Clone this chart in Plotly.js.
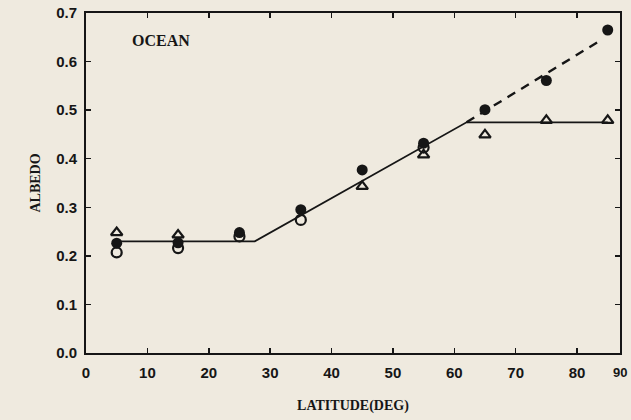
<!DOCTYPE html>
<html>
<head>
<meta charset="utf-8">
<script src="https://cdn.plot.ly/plotly-3.0.1.min.js"></script>
<style>
html,body{margin:0;padding:0;background:#efeadf;}
#chart{width:631px;height:420px;}
</style>
</head>
<body>
<div id="chart"></div>
<script>
// Data
const latitude = [5, 15, 25, 35, 45, 55, 65, 75, 85];
const albedoFilled = [0.226, 0.227, 0.248, 0.295, 0.377, 0.432, 0.501, 0.561, 0.665];
const albedoOpen = [0.207, 0.216, 0.240, 0.274, null, 0.423, null, null, null];
const albedoTriangle = [0.248, 0.243, null, null, 0.343, 0.408, 0.449, 0.479, 0.479];
const fitLat = [5, 27.5, 62, 85];
const fitAlbedo = [0.23, 0.23, 0.475, 0.475];
const dashLat = [62, 84];
const dashAlbedo = [0.475, 0.645];
const xTicks = [0, 10, 20, 30, 40, 50, 60, 70, 80];
const yTicks = [0, 0.1, 0.2, 0.3, 0.4, 0.5, 0.6, 0.7];

const ink = '#161616';
const traces = [
  {x: fitLat, y: fitAlbedo, mode: 'lines', line: {color: ink, width: 1.8}, hoverinfo: 'skip'},
  {x: dashLat, y: dashAlbedo, mode: 'lines', line: {color: ink, width: 2.4, dash: '9px,7px'}, hoverinfo: 'skip'},
  {x: latitude, y: albedoTriangle, mode: 'markers',
   marker: {symbol: 'triangle-up-open', size: 10, color: ink, line: {width: 2.2, color: ink}}},
  {x: latitude, y: albedoOpen, mode: 'markers',
   marker: {symbol: 'circle-open', size: 10, color: ink, line: {width: 2.2, color: ink}}},
  {x: latitude, y: albedoFilled, mode: 'markers',
   marker: {symbol: 'circle', size: 11, color: ink}}
];

const tickFont = {family: 'Liberation Sans, Arial, sans-serif', size: 15, color: ink, weight: 700};
const titleFont = {family: 'Liberation Serif, Times New Roman, serif', size: 14, color: ink, weight: 700};

const layout = {
  width: 631, height: 420,
  margin: {l: 86, r: 11, t: 13, b: 67},
  paper_bgcolor: '#efeadf',
  plot_bgcolor: '#efeadf',
  showlegend: false,
  xaxis: {
    range: [0, 87], tickvals: xTicks, ticktext: xTicks.map(String),
    ticks: 'inside', ticklen: 5, tickwidth: 1.5, tickcolor: ink,
    showline: true, linecolor: ink, linewidth: 2, mirror: 'ticks',
    showgrid: false, zeroline: false, tickfont: tickFont, ticklabelstandoff: 5,
    title: {text: 'LATITUDE(DEG)', font: titleFont, standoff: 20}
  },
  yaxis: {
    range: [0, 0.7], tickvals: yTicks, tickformat: '.1f',
    ticks: 'inside', ticklen: 5, tickwidth: 1.5, tickcolor: ink,
    showline: true, linecolor: ink, linewidth: 2, mirror: 'ticks',
    showgrid: false, zeroline: false, tickfont: tickFont, ticklabelstandoff: 4,
    title: {text: 'ALBEDO', font: titleFont, standoff: 12}
  },
  annotations: [
    {text: 'OCEAN', xref: 'paper', yref: 'paper', x: 0.14, y: 0.92, xanchor: 'center', yanchor: 'middle',
     showarrow: false, font: {family: 'Liberation Serif, Times New Roman, serif', size: 16, color: ink, weight: 700}},
    {text: '90', xref: 'paper', yref: 'paper', x: 1.0, y: 0, yshift: -19, xanchor: 'center', yanchor: 'middle',
     showarrow: false, font: {family: 'Liberation Sans, Arial, sans-serif', size: 13, color: ink, weight: 700}}
  ]
};

Plotly.newPlot('chart', traces, layout, {displayModeBar: false, staticPlot: true});
</script>
</body>
</html>
